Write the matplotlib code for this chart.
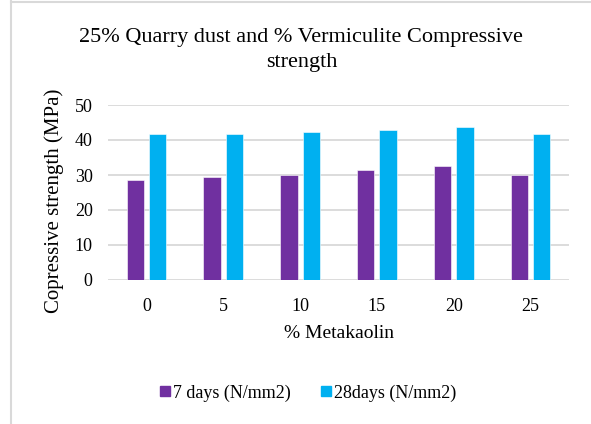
import matplotlib
matplotlib.use("Agg")
import matplotlib.pyplot as plt
import numpy as np
from matplotlib.lines import Line2D

plt.rcParams["font.family"] = ["Liberation Serif", "DejaVu Serif"]

# data
metakaolin = ["0", "5", "10", "15", "20", "25"]
days7 = [28.6, 29.3, 30.1, 31.4, 32.5, 30.1]
days28 = [41.7, 41.8, 42.3, 42.9, 43.8, 41.8]
series_names = ["7 days (N/mm2)", "28days (N/mm2)"]

C_7 = "#7030A0"
C_28 = "#00B0F0"
C_GRID = "#d9d9d9"

fig = plt.figure(figsize=(5.91, 4.24), dpi=100)
ax = fig.add_axes([108 / 591, 1 - 280 / 424, (569 - 108) / 591, (280 - 105) / 424])

x = np.arange(len(metakaolin))
w = 0.225
off = (w + 0.065) / 2
ax.bar(x - off, days7, w, color=C_7, edgecolor="white", lw=0.4, zorder=3, label=series_names[0])
ax.bar(x + off, days28, w, color=C_28, edgecolor="white", lw=0.4, zorder=3, label=series_names[1])

ax.set_xlim(-0.5, len(metakaolin) - 0.5)
ax.set_ylim(0, 50)
ax.set_yticks(range(0, 51, 10))
ax.set_xticks(x, metakaolin)
ax.grid(axis="y", color=C_GRID, lw=1.3, zorder=0)
ax.set_axisbelow(True)
for s in ax.spines.values():
    s.set_visible(False)
ax.tick_params(length=0, labelsize=13, colors="#000000")
ax.tick_params(axis="y", pad=11)
ax.tick_params(axis="x", pad=13)
ax.set_xlabel("% Metakaolin", fontsize=14, labelpad=7)
ax.set_ylabel("Copressive strength (MPa)", fontsize=15)
ax.yaxis.set_label_coords(-0.095, 0.454)

fig.text(0.51, 1 - 50 / 424, "25% Quarry dust and % Vermiculite Compressive\nstrength",
         ha="center", va="center", fontsize=16, linespacing=1.45)

handles = [Line2D([], [], ls="", marker="s", ms=7, color=c) for c in (C_7, C_28)]
fig.legend(handles, series_names, loc="center", bbox_to_anchor=(0.52, 1 - 393 / 424),
           ncol=2, frameon=False, fontsize=13, handletextpad=0.1, columnspacing=1.6,
           handlelength=0.7)

# chart frame (left and top edge only, as in the reference)
fig.add_artist(Line2D([11 / 591, 11 / 591], [0, 1 - 1 / 424], color="#d9d9d9", lw=1.5))
fig.add_artist(Line2D([11 / 591, 1], [1 - 1.5 / 424, 1 - 1.5 / 424], color="#d9d9d9", lw=1.5))

fig.savefig("out.png", dpi=100)
